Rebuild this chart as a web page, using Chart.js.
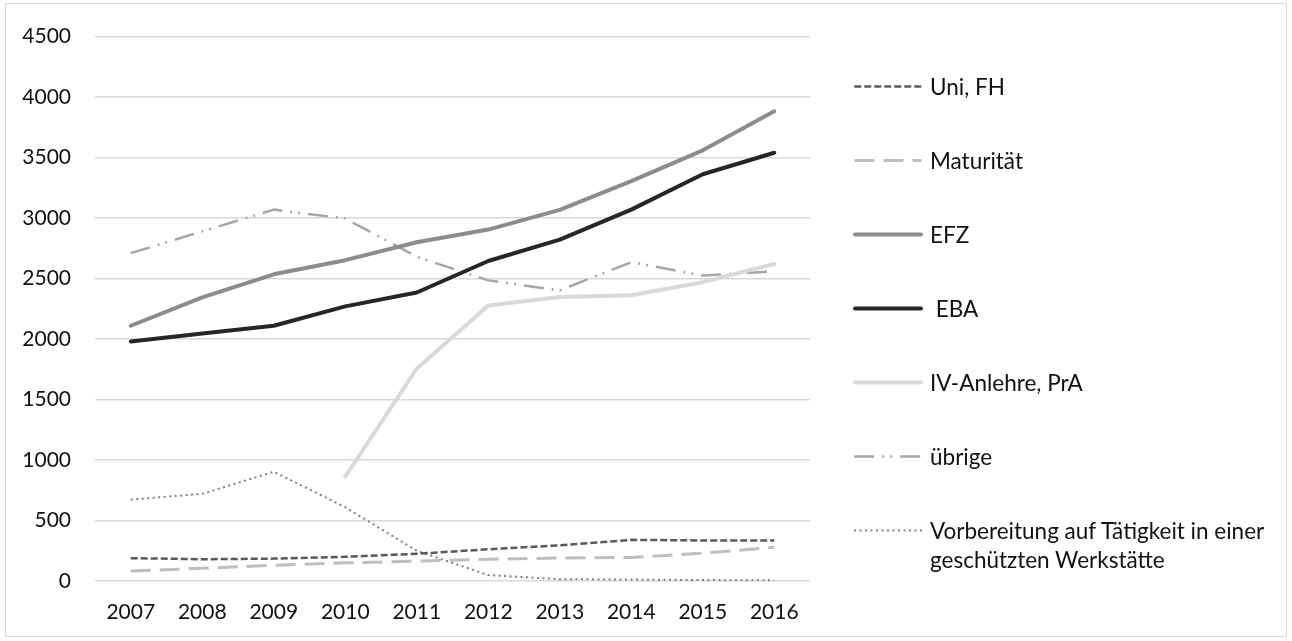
<!DOCTYPE html>
<html>
<head>
<meta charset="utf-8">
<script src="https://cdn.jsdelivr.net/npm/chart.js@4.4.1/dist/chart.umd.min.js"></script>
<style>
    html, body { margin: 0; padding: 0; background: #fff; }
    #wrap { position: relative; width: 1292px; height: 641px; }
    #frame {
        position: absolute; left: 5px; top: 3px; width: 1282px; height: 634px;
        border: 1.5px solid #d9d9d9; box-sizing: border-box;
    }
    #chart { position: absolute; left: 0; top: 0; }
    #legend {
        position: absolute; left: 853px; top: 72px;
        font-family: Lato, "Open Sans", sans-serif; font-size: 22.5px; color: #111;
    }
    .item { display: flex; align-items: flex-start; margin-bottom: 45px; }
    .item svg { flex: none; margin-right: 7px; }
    .item span { line-height: 29px; width: 370px; white-space: pre-wrap; }
</style>
</head>
<body>
<div id="wrap">
    <div id="frame"></div>
    <canvas id="chart" width="1292" height="641"></canvas>
    <div id="legend"></div>
</div>
<script>
// Years on the x axis
const years = ['2007', '2008', '2009', '2010', '2011', '2012', '2013', '2014', '2015', '2016'];

// Series values
const uniFh = [189, 180, 185, 200, 225, 262, 295, 340, 335, 335];
const maturitaet = [82, 105, 130, 150, 165, 180, 190, 195, 230, 278];
const efz = [2110, 2345, 2535, 2652, 2800, 2905, 3068, 3305, 3560, 3882];
const eba = [1980, 2045, 2110, 2270, 2385, 2645, 2822, 3070, 3362, 3540];
const ivAnlehre = [null, null, null, 862, 1755, 2278, 2348, 2362, 2470, 2620];
const uebrige = [2710, 2890, 3070, 2996, 2680, 2485, 2402, 2635, 2525, 2560];
const vorbereitung = [673, 720, 903, 610, 250, 49, 15, 12, 8, 5];

// Legend labels
const seriesLabels = ['Uni, FH', 'Maturität', 'EFZ', ' EBA', 'IV-Anlehre, PrA', 'übrige',
    'Vorbereitung auf Tätigkeit in einer geschützten Werkstätte'];

// y axis ticks
const yMin = 0;
const yMax = 4500;
const yStep = 500;

const seriesData = [uniFh, maturitaet, efz, eba, ivAnlehre, uebrige, vorbereitung];
const seriesStyles = [
    { color: '#595959', width: 2.5, dash: [7, 3], cap: 'butt' },
    { color: '#bfbfbf', width: 3, dash: [20, 9], cap: 'butt' },
    { color: '#8c8c8c', width: 4, dash: [], cap: 'round' },
    { color: '#262626', width: 4, dash: [], cap: 'round' },
    { color: '#d9d9d9', width: 4, dash: [], cap: 'round' },
    { color: '#a6a6a6', width: 2.5, dash: [20, 8, 2, 6, 2, 8], cap: 'butt' },
    { color: '#7f7f7f', width: 2, dash: [2, 3.5], cap: 'butt' }
];

const datasets = seriesData.map((data, i) => ({
    label: seriesLabels[i],
    data: data,
    borderColor: seriesStyles[i].color,
    backgroundColor: seriesStyles[i].color,
    borderWidth: seriesStyles[i].width,
    borderDash: seriesStyles[i].dash,
    borderCapStyle: seriesStyles[i].cap,
    borderJoinStyle: 'round',
    pointRadius: 0,
    tension: 0,
    fill: false,
    spanGaps: false
}));

const tickFont = { family: 'Lato, "Open Sans", sans-serif', size: 21 };

new Chart(document.getElementById('chart').getContext('2d'), {
    type: 'line',
    data: { labels: years, datasets: datasets },
    options: {
        responsive: false,
        animation: false,
        layout: { padding: { left: 0, top: 33, right: 482, bottom: 0 } },
        plugins: {
            legend: { display: false },
            tooltip: { enabled: false }
        },
        scales: {
            x: {
                offset: true,
                grid: { display: false, drawTicks: false },
                border: { display: false },
                ticks: { color: '#111', font: tickFont, padding: 19, maxRotation: 0 },
                afterFit: (scale) => { scale.height = 60; }
            },
            y: {
                min: yMin,
                max: yMax,
                grid: { color: '#d9d9d9', lineWidth: 1.5, drawTicks: false },
                border: { display: false },
                ticks: {
                    stepSize: yStep, color: '#111', font: tickFont, padding: 24,
                    callback: (value) => String(value)
                },
                afterFit: (scale) => { scale.width = 95; }
            }
        }
    }
});

// Legend on the right, built from the series
const legend = document.getElementById('legend');
datasets.forEach(ds => {
    const item = document.createElement('div');
    item.className = 'item';
    const dash = ds.borderDash.length ? ds.borderDash.join(' ') : 'none';
    item.innerHTML =
        '<svg width="70" height="29"><line x1="' + ds.borderWidth / 2 + '" y1="14.5" x2="' +
        (70 - ds.borderWidth / 2) + '" y2="14.5" stroke="' + ds.borderColor + '" stroke-width="' +
        ds.borderWidth + '" stroke-dasharray="' + dash + '" stroke-linecap="' + ds.borderCapStyle +
        '"/></svg>';
    const text = document.createElement('span');
    text.textContent = ds.label;
    item.appendChild(text);
    legend.appendChild(item);
});
</script>
</body>
</html>
